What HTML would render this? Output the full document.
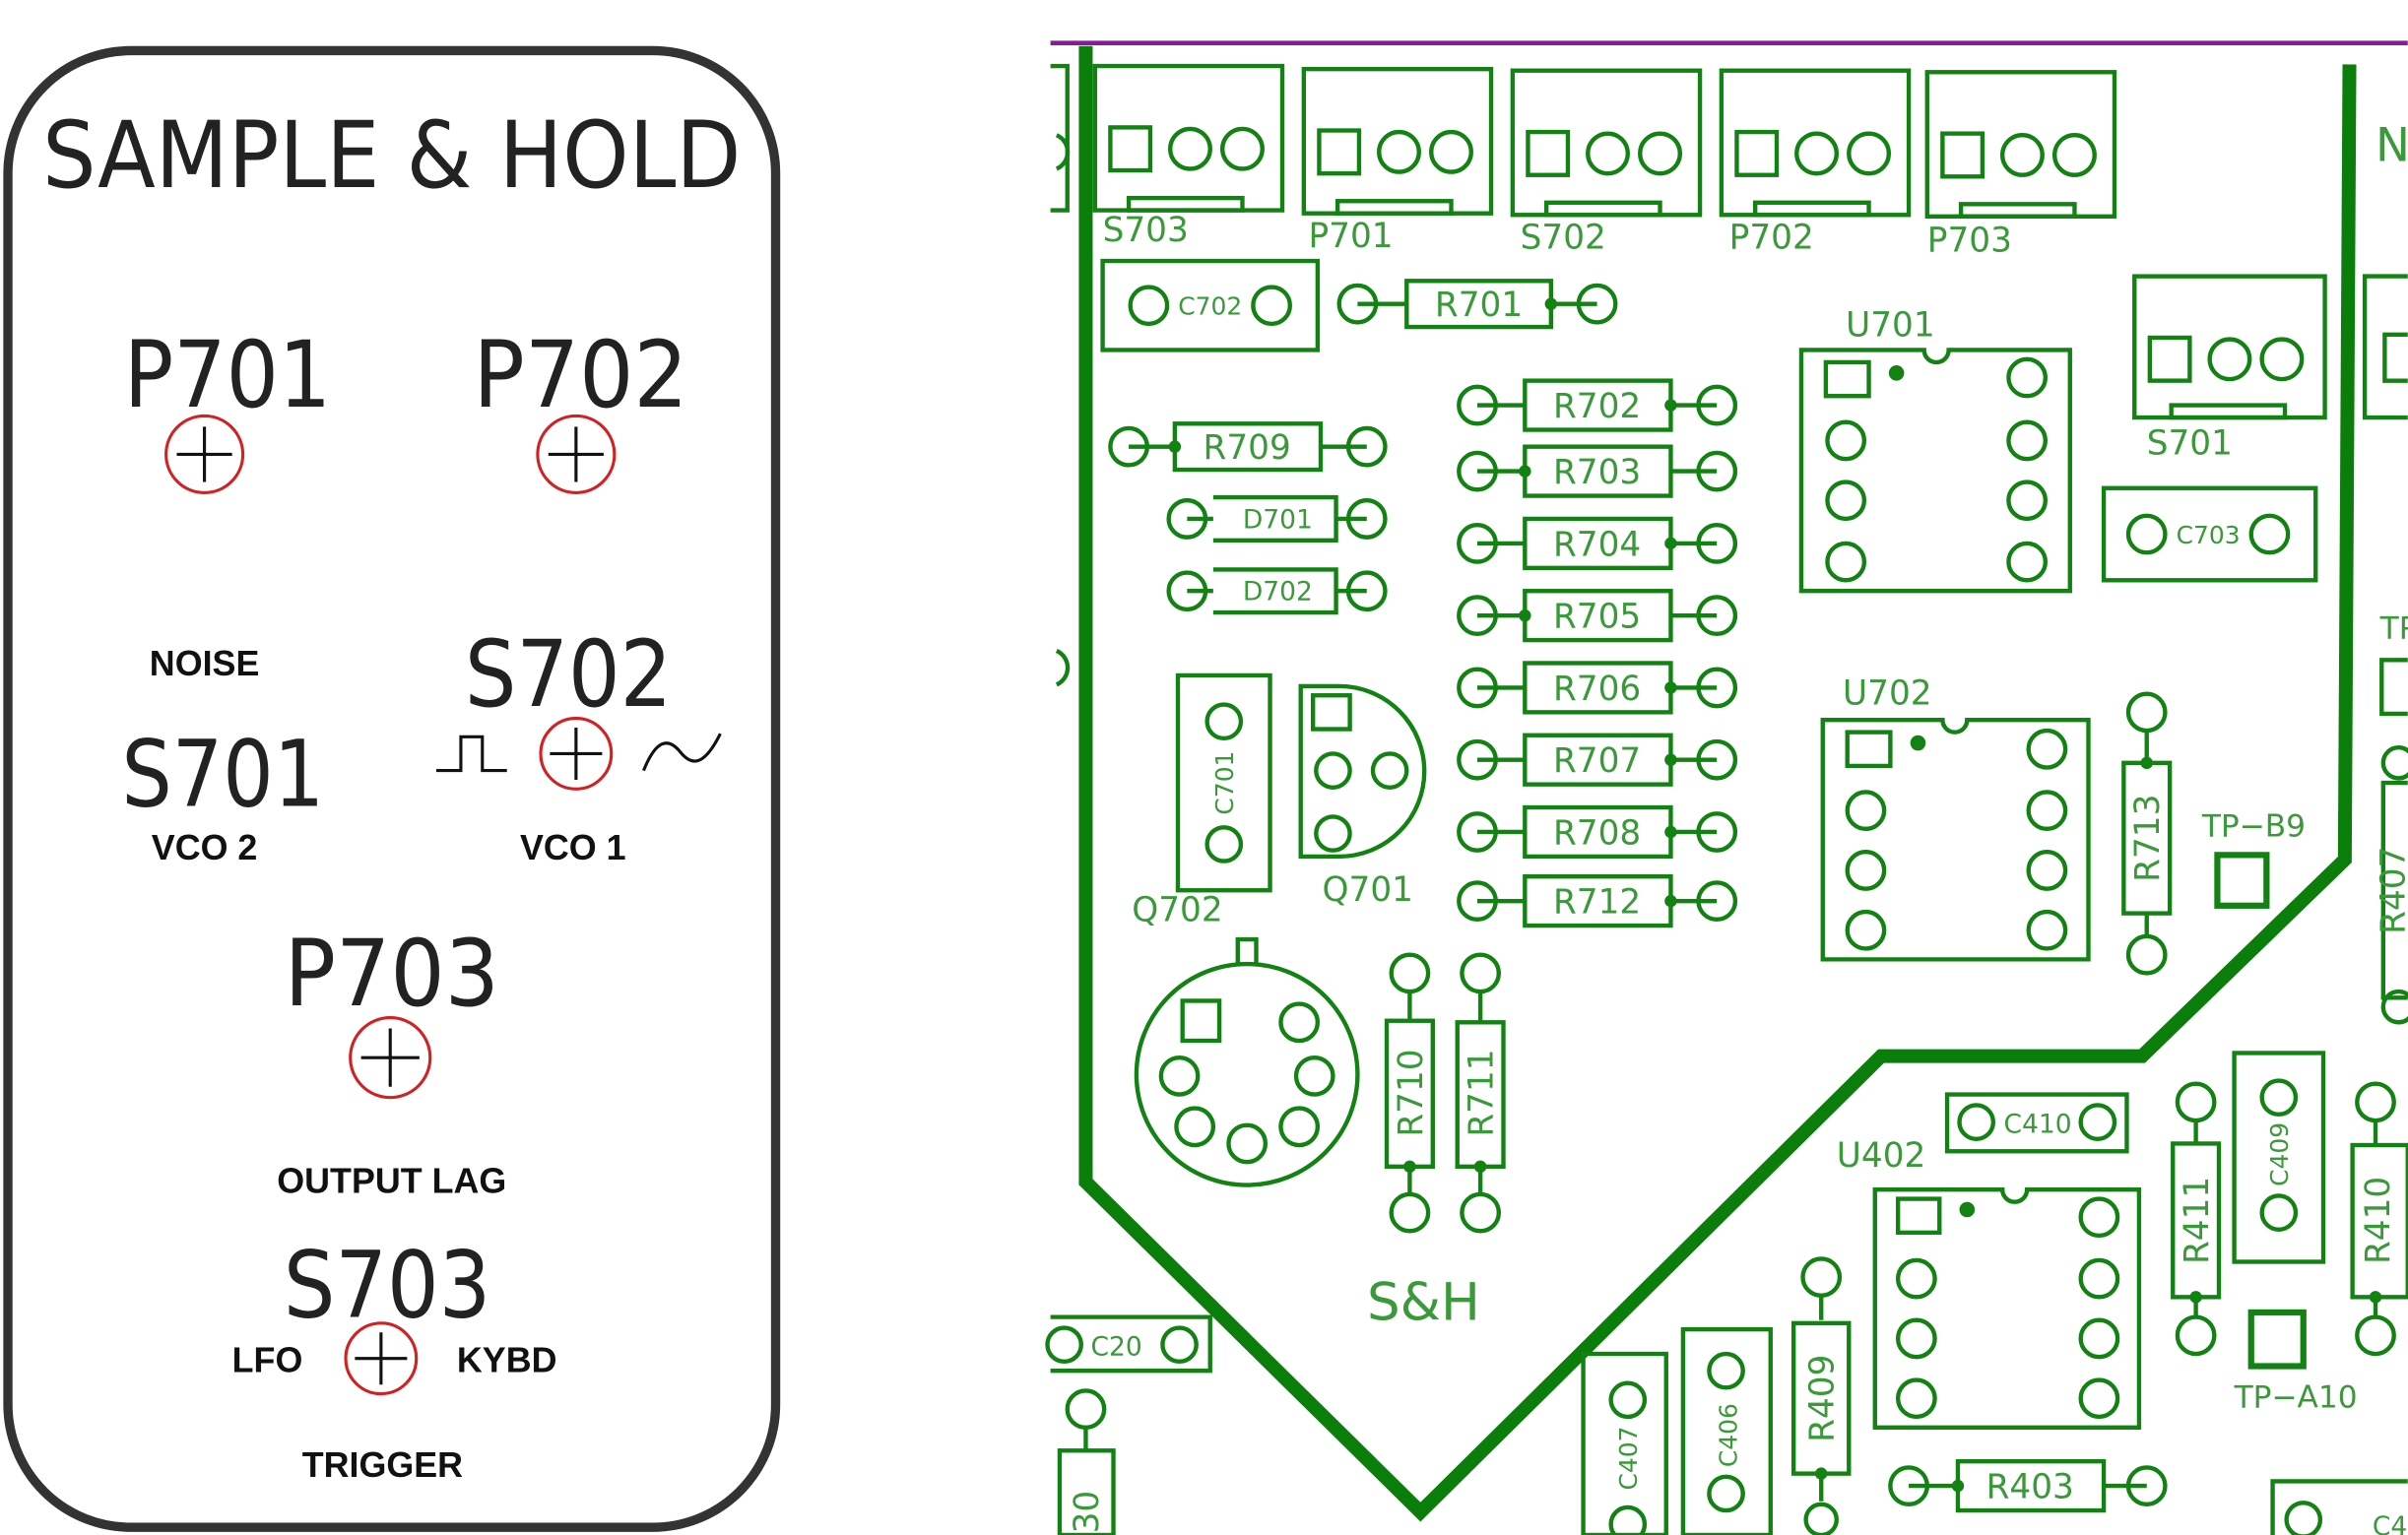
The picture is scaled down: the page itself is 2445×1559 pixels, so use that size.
<!DOCTYPE html>
<html><head><meta charset="utf-8"><style>
html,body{margin:0;padding:0;background:#fff;overflow:hidden}
svg{display:block}
.g{fill:none;stroke:#128212;stroke-width:2.8}
.gt{fill:#3a9a3a;font-family:"DejaVu Sans","Liberation Sans",sans-serif}
.k{fill:#222;font-family:"DejaVu Sans","Liberation Sans",sans-serif}
.b{fill:#111;font-family:"Liberation Sans",sans-serif;font-weight:bold}
.r{fill:none;stroke:#d42020;stroke-width:2}
</style></head><body>
<svg width="2445" height="1559" viewBox="0 0 1568 1000" xmlns="http://www.w3.org/2000/svg">
<rect width="1568" height="1000" fill="#fff"/>
<!-- LEFT PANEL -->
<rect x="5" y="33" width="500" height="962" rx="80" fill="none" stroke="#333" stroke-width="6"/>
<text class="k" x="255" y="122" font-size="60" text-anchor="middle" textLength="455" lengthAdjust="spacingAndGlyphs">SAMPLE &amp; HOLD</text>
<text class="k" x="148" y="265" font-size="60" text-anchor="middle" textLength="135" lengthAdjust="spacingAndGlyphs">P701</text>
<text class="k" x="378" y="265" font-size="60" text-anchor="middle" textLength="140" lengthAdjust="spacingAndGlyphs">P702</text>
<text class="k" x="370" y="460" font-size="60" text-anchor="middle" textLength="135" lengthAdjust="spacingAndGlyphs">S702</text>
<text class="k" x="145" y="525" font-size="60" text-anchor="middle" textLength="132" lengthAdjust="spacingAndGlyphs">S701</text>
<text class="k" x="255" y="655" font-size="60" text-anchor="middle" textLength="140" lengthAdjust="spacingAndGlyphs">P703</text>
<text class="k" x="252" y="858" font-size="60" text-anchor="middle" textLength="135" lengthAdjust="spacingAndGlyphs">S703</text>
<text class="b" x="133" y="440" font-size="23" text-anchor="middle">NOISE</text>
<text class="b" x="133" y="560" font-size="23" text-anchor="middle">VCO 2</text>
<text class="b" x="373" y="560" font-size="23" text-anchor="middle">VCO 1</text>
<text class="b" x="255" y="777" font-size="23" text-anchor="middle">OUTPUT LAG</text>
<text class="b" x="174" y="894" font-size="23" text-anchor="middle">LFO</text>
<text class="b" x="330" y="894" font-size="23" text-anchor="middle">KYBD</text>
<text class="b" x="249" y="962" font-size="23" text-anchor="middle">TRIGGER</text>
<g class="r">
<circle cx="133" cy="296" r="25"/><circle cx="375" cy="296" r="25"/><circle cx="375" cy="491" r="23"/><circle cx="254" cy="689" r="26"/><circle cx="248" cy="885" r="23"/>
</g>
<g stroke="#111" stroke-width="2" fill="none">
<path d="M133 278v36M115 296h36M375 278v36M357 296h36M375 474v34M358 491h34M254 670v38M235 689h38M248 868v34M231 885h34"/>
<path d="M284 502h16v-22h14v22h16"/>
<path d="M419 502c8-20 16-22 24-12s16 8 26-12"/>
</g>
<!-- PCB -->
<line x1="684" y1="28" x2="1568" y2="28" stroke="#8a1a9a" stroke-width="3"/>
<path d="M707 30V770L925 985L1225 688H1395L1527 560L1530 42" fill="none" stroke="#0b7d0b" stroke-width="9" stroke-linejoin="miter"/>
<g class="g">
<path d="M684 43h11v94h-11"/>
<g transform="translate(713,43)"><rect width="122" height="94"/><rect x="10" y="40" width="26" height="28"/><circle cx="62" cy="54" r="13"/><circle cx="96" cy="54" r="13"/><rect x="22" y="86" width="74" height="8"/></g>
<g transform="translate(849,45)"><rect width="122" height="94"/><rect x="10" y="40" width="26" height="28"/><circle cx="62" cy="54" r="13"/><circle cx="96" cy="54" r="13"/><rect x="22" y="86" width="74" height="8"/></g>
<g transform="translate(985,46)"><rect width="122" height="94"/><rect x="10" y="40" width="26" height="28"/><circle cx="62" cy="54" r="13"/><circle cx="96" cy="54" r="13"/><rect x="22" y="86" width="74" height="8"/></g>
<g transform="translate(1121,46)"><rect width="122" height="94"/><rect x="10" y="40" width="26" height="28"/><circle cx="62" cy="54" r="13"/><circle cx="96" cy="54" r="13"/><rect x="22" y="86" width="74" height="8"/></g>
<g transform="translate(1255,47)"><rect width="122" height="94"/><rect x="10" y="40" width="26" height="28"/><circle cx="62" cy="54" r="13"/><circle cx="96" cy="54" r="13"/><rect x="22" y="86" width="74" height="8"/></g>
<g transform="translate(1390,180)"><rect width="124" height="92"/><rect x="10" y="40" width="26" height="28"/><circle cx="62" cy="54" r="13"/><circle cx="96" cy="54" r="13"/><rect x="24" y="84" width="74" height="8"/></g>
<path d="M1568 180h-28v92h28M1568 218h-15v30h15"/>
<rect x="718" y="170" width="140" height="58"/><circle cx="748" cy="199" r="12"/><circle cx="828" cy="199" r="12"/>
<rect x="1370" y="318" width="138" height="60"/><circle cx="1398" cy="348" r="12"/><circle cx="1478" cy="348" r="12"/>
<path d="M884 198h32M1010 198h30"/><circle cx="884" cy="198" r="12"/><circle cx="1040" cy="198" r="12"/><rect x="916" y="183" width="94" height="30"/>
<path d="M735 291h30M860 291h30"/><circle cx="735" cy="291" r="12"/><circle cx="890" cy="291" r="12"/><rect x="765" y="276" width="95" height="30"/>
<path d="M773 338h17M870 338h20M790 324h80v28h-80M773 385h17M870 385h20M790 371h80v28h-80"/><circle cx="773" cy="338" r="12"/><circle cx="890" cy="338" r="12"/><circle cx="773" cy="385" r="12"/><circle cx="890" cy="385" r="12"/>
<path d="M962 264h31M1088 264h30M962 307h31M1088 307h30M962 354h31M1088 354h30M962 401h31M1088 401h30M962 448h31M1088 448h30M962 495h31M1088 495h30M962 542h31M1088 542h30M962 587h31M1088 587h30"/>
<rect x="993" y="248" width="95" height="32"/><rect x="993" y="291" width="95" height="32"/><rect x="993" y="338" width="95" height="32"/><rect x="993" y="385" width="95" height="32"/><rect x="993" y="432" width="95" height="32"/><rect x="993" y="479" width="95" height="32"/><rect x="993" y="526" width="95" height="32"/><rect x="993" y="571" width="95" height="32"/>
<g><circle cx="962" cy="264" r="12"/><circle cx="1118" cy="264" r="12"/><circle cx="962" cy="307" r="12"/><circle cx="1118" cy="307" r="12"/><circle cx="962" cy="354" r="12"/><circle cx="1118" cy="354" r="12"/><circle cx="962" cy="401" r="12"/><circle cx="1118" cy="401" r="12"/><circle cx="962" cy="448" r="12"/><circle cx="1118" cy="448" r="12"/><circle cx="962" cy="495" r="12"/><circle cx="1118" cy="495" r="12"/><circle cx="962" cy="542" r="12"/><circle cx="1118" cy="542" r="12"/><circle cx="962" cy="587" r="12"/><circle cx="1118" cy="587" r="12"/></g>
<path d="M1173 228h80a8 8 0 0 0 16 0h79v157h-175z"/><rect x="1189" y="236" width="28" height="22"/>
<circle cx="1202" cy="287" r="12"/><circle cx="1202" cy="326" r="12"/><circle cx="1202" cy="366" r="12"/><circle cx="1320" cy="246" r="12"/><circle cx="1320" cy="287" r="12"/><circle cx="1320" cy="326" r="12"/><circle cx="1320" cy="366" r="12"/>
<path d="M1187 469h78a8 8 0 0 0 16 0h79v156h-173z"/><rect x="1203" y="477" width="28" height="22"/>
<circle cx="1215" cy="528" r="12"/><circle cx="1215" cy="567" r="12"/><circle cx="1215" cy="606" r="12"/><circle cx="1333" cy="488" r="12"/><circle cx="1333" cy="528" r="12"/><circle cx="1333" cy="567" r="12"/><circle cx="1333" cy="606" r="12"/>
<path d="M1221 775h83a8 8 0 0 0 16 0h73v155h-172z"/><rect x="1236" y="781" width="27" height="22"/>
<circle cx="1248" cy="833" r="12"/><circle cx="1248" cy="872" r="12"/><circle cx="1248" cy="911" r="12"/><circle cx="1367" cy="793" r="12"/><circle cx="1367" cy="833" r="12"/><circle cx="1367" cy="872" r="12"/><circle cx="1367" cy="911" r="12"/>
<path d="M1398 476v21M1398 595v15"/><circle cx="1398" cy="464" r="12"/><circle cx="1398" cy="622" r="12"/><rect x="1383" y="497" width="30" height="98"/>
<path d="M918 646v19M918 760v18M964 646v19M964 760v18"/><circle cx="918" cy="634" r="12"/><circle cx="918" cy="790" r="12"/><circle cx="964" cy="634" r="12"/><circle cx="964" cy="790" r="12"/><rect x="903" y="665" width="30" height="95"/><rect x="949" y="666" width="30" height="94"/>
<path d="M1430 730v15M1430 845v13M1547 730v16M1547 845v13"/><circle cx="1430" cy="718" r="12"/><circle cx="1430" cy="870" r="12"/><circle cx="1547" cy="718" r="12"/><circle cx="1547" cy="870" r="12"/><rect x="1415" y="745" width="30" height="100"/><rect x="1532" y="746" width="36" height="99"/>
<path d="M1186 844v16M1186 960v18"/><circle cx="1186" cy="832" r="12"/><circle cx="1186" cy="990" r="10"/><rect x="1168" y="862" width="36" height="98"/>
<path d="M1243 968h32M1370 968h28"/><circle cx="1243" cy="968" r="12"/><circle cx="1398" cy="968" r="12"/><rect x="1275" y="952" width="95" height="32"/>
<path d="M707 930v15"/><circle cx="707" cy="918" r="12"/><rect x="690" y="945" width="35" height="55"/>
<path d="M1568 510h-16v140h16"/><circle cx="1562" cy="497" r="10"/><circle cx="1562" cy="656" r="10"/>
<rect x="767" y="440" width="60" height="140"/><circle cx="797" cy="470" r="11"/><circle cx="797" cy="550" r="11"/>
<path d="M847 447h25a55 55 0 0 1 0 111h-25z"/><rect x="855" y="453" width="24" height="22"/><circle cx="868" cy="502" r="11"/><circle cx="868" cy="543" r="11"/><circle cx="905" cy="502" r="11"/>
<circle cx="812" cy="700" r="72"/><path d="M806 628v-16h12v16"/><rect x="770" y="652" width="24" height="26"/>
<circle cx="846" cy="666" r="12"/><circle cx="768" cy="701" r="12"/><circle cx="856" cy="701" r="12"/><circle cx="778" cy="734" r="12"/><circle cx="846" cy="734" r="12"/><circle cx="812" cy="745" r="12"/>
<rect x="1268" y="713" width="117" height="37"/><circle cx="1287" cy="731" r="11"/><circle cx="1366" cy="731" r="11"/>
<rect x="1455" y="686" width="58" height="136"/><circle cx="1484" cy="715" r="11"/><circle cx="1484" cy="790" r="11"/>
<rect x="1096" y="866" width="57" height="134"/><circle cx="1124" cy="893" r="11"/><circle cx="1124" cy="973" r="11"/>
<rect x="1031" y="882" width="54" height="118"/><circle cx="1060" cy="912" r="11"/><circle cx="1060" cy="993" r="11"/>
<path d="M684 858h104v35h-104"/><circle cx="693" cy="876" r="11"/><circle cx="768" cy="876" r="11"/>
<path d="M1568 965h-88v35"/><circle cx="1500" cy="990" r="11"/>
<rect x="1444" y="557" width="32" height="33" stroke-width="4"/><rect x="1466" y="855" width="34" height="35" stroke-width="4"/>
<path d="M1568 430h-17v35h17"/><path d="M688 88a12 12 0 0 1 0 22M688 424a12 12 0 0 1 0 22"/>
</g>
<g fill="#128212">
<circle cx="1235" cy="243" r="5"/><circle cx="1249" cy="484" r="5"/><circle cx="1281" cy="788" r="5"/>
<circle cx="765" cy="291" r="4"/><circle cx="1010" cy="198" r="4"/><circle cx="1088" cy="264" r="4"/><circle cx="993" cy="307" r="4"/><circle cx="1088" cy="354" r="4"/><circle cx="993" cy="401" r="4"/><circle cx="1088" cy="448" r="4"/><circle cx="1088" cy="495" r="4"/><circle cx="1088" cy="542" r="4"/><circle cx="1088" cy="587" r="4"/><circle cx="1398" cy="497" r="4"/><circle cx="918" cy="760" r="4"/><circle cx="964" cy="760" r="4"/><circle cx="1430" cy="845" r="4"/><circle cx="1547" cy="845" r="4"/><circle cx="1186" cy="960" r="4"/><circle cx="1275" cy="968" r="4"/>
</g>
<g class="gt" font-size="22">
<text x="718" y="157">S703</text><text x="852" y="161">P701</text><text x="990" y="162">S702</text><text x="1126" y="162">P702</text><text x="1255" y="164">P703</text>
<text x="1398" y="296">S701</text><text x="1202" y="219">U701</text><text x="1200" y="459">U702</text><text x="1196" y="760">U402</text>
<text x="1434" y="545" font-size="20">TP−B9</text><text x="1455" y="917" font-size="20">TP−A10</text>
<text x="737" y="600">Q702</text><text x="861" y="587">Q701</text>
<text x="1547" y="105" font-size="30">N</text><text x="1550" y="416" font-size="20">TP</text>
<text x="963" y="206" text-anchor="middle">R701</text><text x="812" y="299" text-anchor="middle">R709</text>
<text x="1040" y="272" text-anchor="middle">R702</text><text x="1040" y="315" text-anchor="middle">R703</text><text x="1040" y="362" text-anchor="middle">R704</text><text x="1040" y="409" text-anchor="middle">R705</text><text x="1040" y="456" text-anchor="middle">R706</text><text x="1040" y="503" text-anchor="middle">R707</text><text x="1040" y="550" text-anchor="middle">R708</text><text x="1040" y="595" text-anchor="middle">R712</text>
<text x="1322" y="976" text-anchor="middle">R403</text>
<text x="832" y="344" font-size="17" text-anchor="middle">D701</text><text x="832" y="391" font-size="17" text-anchor="middle">D702</text>
<text x="788" y="205" font-size="16" text-anchor="middle">C702</text><text x="1438" y="354" font-size="16" text-anchor="middle">C703</text><text x="1327" y="738" font-size="17" text-anchor="middle">C410</text><text x="727" y="883" font-size="17" text-anchor="middle">C20</text><text x="1545" y="1000" font-size="17">C4</text>
<text x="927" y="860" font-size="34" text-anchor="middle">S&amp;H</text>
<text transform="translate(1406,546) rotate(-90)" text-anchor="middle">R713</text>
<text transform="translate(926,712) rotate(-90)" text-anchor="middle">R710</text>
<text transform="translate(972,712) rotate(-90)" text-anchor="middle">R711</text>
<text transform="translate(1438,795) rotate(-90)" text-anchor="middle">R411</text>
<text transform="translate(1556,795) rotate(-90)" text-anchor="middle">R410</text>
<text transform="translate(1194,911) rotate(-90)" text-anchor="middle">R409</text>
<text transform="translate(1566,580) rotate(-90)" text-anchor="middle">R407</text>
<text transform="translate(715,985) rotate(-90)" text-anchor="middle">30</text>
<text transform="translate(803,510) rotate(-90)" font-size="16" text-anchor="middle">C701</text>
<text transform="translate(1490,752) rotate(-90)" font-size="16" text-anchor="middle">C409</text>
<text transform="translate(1131,935) rotate(-90)" font-size="16" text-anchor="middle">C406</text>
<text transform="translate(1066,950) rotate(-90)" font-size="16" text-anchor="middle">C407</text>
</g>
</svg>
</body></html>
